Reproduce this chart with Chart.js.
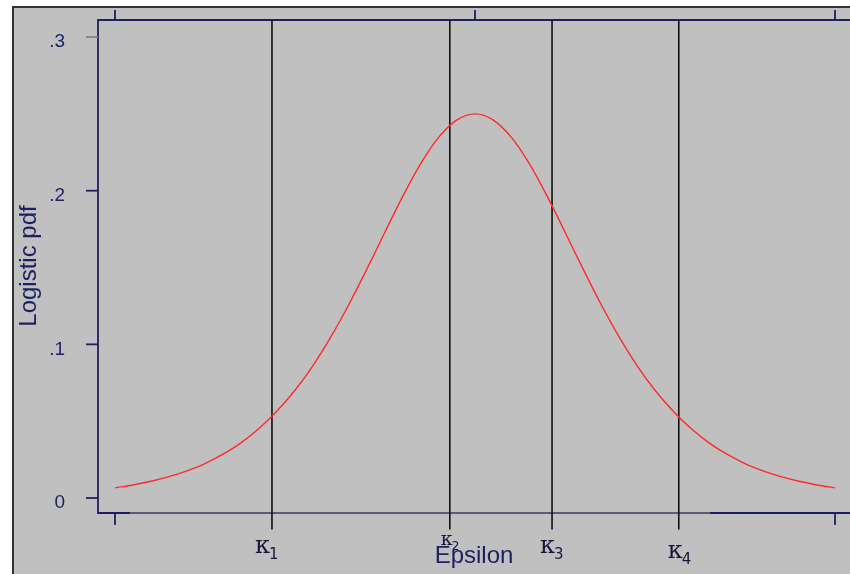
<!DOCTYPE html>
<html>
<head>
<meta charset="utf-8">
<script src="https://cdn.jsdelivr.net/npm/chart.js@4.4.1/dist/chart.umd.min.js"></script>
<style>
  html, body { margin: 0; padding: 0; background: #fff; }
  canvas { display: block; }
</style>
</head>
<body>
<canvas id="c" width="850" height="574"></canvas>
<script>
// values
const epsilon = [-5, -4.75, -4.5, -4.25, -4, -3.75, -3.5, -3.25, -3, -2.75, -2.5, -2.25, -2, -1.75, -1.5, -1.25, -1, -0.75, -0.5, -0.25,
  0, 0.25, 0.5, 0.75, 1, 1.25, 1.5, 1.75, 2, 2.25, 2.5, 2.75, 3, 3.25, 3.5, 3.75, 4, 4.25, 4.5, 4.75, 5];
const pdf = [0.0066, 0.0085, 0.0109, 0.0139, 0.0177, 0.0224, 0.0285, 0.0359, 0.0452, 0.0566, 0.0701, 0.0862, 0.1050, 0.1261, 0.1491, 0.1731, 0.1966, 0.2179, 0.2350, 0.2461,
  0.2500, 0.2461, 0.2350, 0.2179, 0.1966, 0.1731, 0.1491, 0.1261, 0.1050, 0.0862, 0.0701, 0.0566, 0.0452, 0.0359, 0.0285, 0.0224, 0.0177, 0.0139, 0.0109, 0.0085, 0.0066];
const kappas = [-2.82, -0.35, 1.07, 2.83];
const kappaSubs = ['1', '2', '3', '4'];
const yTicks = [0, 0.1, 0.2, 0.3];
const yTickLabels = ['0', '.1', '.2', '.3'];
const xTopTicks = [-5, 0, 5];
const xBottomTicks = [-5, 5];

const NAVY = '#1e1e62';
const GRAY = '#c0c0c0';

const kappaSets = kappas.map(k => ({
  data: [{ x: k, y: 0.3111 }, { x: k, y: -0.0205 }],
  borderColor: '#111',
  borderWidth: 1.6,
  pointRadius: 0,
  clip: false
}));

const decor = {
  id: 'decor',
  beforeDraw(chart) {
    const ctx = chart.ctx;
    ctx.save();
    ctx.fillStyle = '#fff';
    ctx.fillRect(0, 0, chart.width, chart.height);
    ctx.fillStyle = GRAY;
    ctx.fillRect(13, 7, chart.width, chart.height);
    ctx.strokeStyle = '#333';
    ctx.lineWidth = 2;
    ctx.beginPath();
    ctx.moveTo(13, chart.height); ctx.lineTo(13, 7); ctx.lineTo(chart.width, 7);
    ctx.stroke();
    ctx.restore();
  },
  beforeDatasetsDraw(chart) {
    const { ctx, chartArea: a, scales: { x, y } } = chart;
    ctx.save();
    ctx.lineWidth = 1.8;
    // frame
    ctx.strokeStyle = NAVY;
    ctx.beginPath();
    ctx.moveTo(a.right, a.top); ctx.lineTo(a.left, a.top); ctx.lineTo(a.left, a.bottom); ctx.lineTo(130, a.bottom);
    ctx.stroke();
    ctx.strokeStyle = '#5c5c78';
    ctx.beginPath(); ctx.moveTo(130, a.bottom); ctx.lineTo(710, a.bottom); ctx.stroke();
    ctx.strokeStyle = NAVY;
    ctx.beginPath(); ctx.moveTo(710, a.bottom); ctx.lineTo(a.right, a.bottom); ctx.stroke();
    // x ticks
    ctx.beginPath();
    xTopTicks.forEach(v => { const px = x.getPixelForValue(v); ctx.moveTo(px, a.top); ctx.lineTo(px, a.top - 10); });
    xBottomTicks.forEach(v => { const px = x.getPixelForValue(v); ctx.moveTo(px, a.bottom); ctx.lineTo(px, a.bottom + 12); });
    ctx.stroke();
    // y ticks + labels
    ctx.font = '19px "Liberation Sans", Arial, sans-serif';
    ctx.textAlign = 'right';
    ctx.textBaseline = 'middle';
    yTicks.forEach((v, i) => {
      const py = y.getPixelForValue(v);
      ctx.strokeStyle = i === 3 ? '#808088' : NAVY;
      ctx.beginPath(); ctx.moveTo(a.left, py); ctx.lineTo(a.left - 12, py); ctx.stroke();
      ctx.fillStyle = NAVY;
      ctx.fillText(yTickLabels[i], 65, py + 5);
    });
    ctx.restore();
  },
  afterDraw(chart) {
    const { ctx, scales: { x } } = chart;
    ctx.save();
    // kappa labels: [dx, baseline, font size]
    const offs = [[-17, 553, 24], [-9, 545, 19], [-12, 553, 24], [-11, 558, 24]];
    kappas.forEach((k, i) => {
      const px = x.getPixelForValue(k) + offs[i][0];
      const base = offs[i][1];
      const fs = offs[i][2];
      ctx.fillStyle = '#16163a';
      ctx.textAlign = 'left';
      ctx.textBaseline = 'alphabetic';
      ctx.font = fs + 'px "DejaVu Serif", serif';
      ctx.fillText('κ', px, base);
      const w = ctx.measureText('κ').width;
      ctx.font = Math.round(fs * 0.62) + 'px "DejaVu Sans", sans-serif';
      ctx.fillText(kappaSubs[i], px + w - 1, base + fs * 0.25);
    });
    // axis titles
    ctx.fillStyle = NAVY;
    ctx.font = '24px "Liberation Sans", Arial, sans-serif';
    ctx.textAlign = 'center';
    ctx.fillText('Epsilon', 474, 563);
    ctx.translate(36, 266);
    ctx.rotate(-Math.PI / 2);
    ctx.textBaseline = 'alphabetic';
    ctx.fillText('Logistic pdf', 0, 0);
    ctx.restore();
  }
};

new Chart(document.getElementById('c'), {
  type: 'line',
  data: {
    datasets: [{
      data: epsilon.map((e, i) => ({ x: e, y: pdf[i] })),
      borderColor: '#ff2a2a',
      borderWidth: 1.4,
      pointRadius: 0,
      cubicInterpolationMode: 'monotone'
    }, ...kappaSets]
  },
  options: {
    responsive: false,
    animation: false,
    layout: { padding: { left: 98, top: 20, right: 0, bottom: 61 } },
    plugins: { legend: { display: false }, tooltip: { enabled: false } },
    scales: {
      x: { type: 'linear', display: false, min: -5.236, max: 5.208 },
      y: { type: 'linear', display: false, min: -0.00976, max: 0.3111 }
    }
  },
  plugins: [decor]
});
</script>
</body>
</html>
